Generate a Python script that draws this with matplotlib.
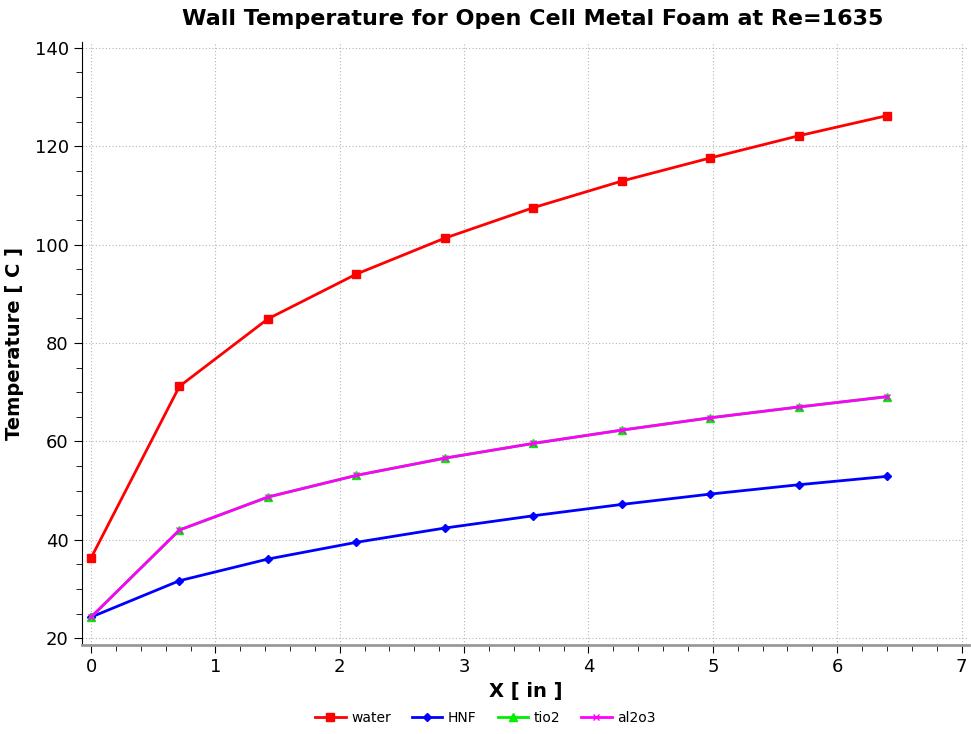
import matplotlib
matplotlib.use("Agg")
import matplotlib.pyplot as plt
from matplotlib.ticker import MultipleLocator

x = [0, 0.711, 1.422, 2.133, 2.844, 3.556, 4.267, 4.978, 5.689, 6.4]
water = [36.3, 71.2, 84.9, 94.0, 101.3, 107.5, 112.9, 117.6, 122.1, 126.2]
hnf = [24.3, 31.7, 36.1, 39.5, 42.4, 44.9, 47.2, 49.3, 51.2, 52.9]
tio2 = [24.3, 42.0, 48.7, 53.1, 56.6, 59.6, 62.3, 64.8, 67.0, 69.1]
al2o3 = [24.3, 42.0, 48.7, 53.1, 56.6, 59.6, 62.3, 64.8, 67.0, 69.1]

fig = plt.figure(figsize=(9.71, 7.34), dpi=100)
ax = fig.add_axes([0.0845, 0.121, 0.9135, 0.822])

ax.plot(x, water, color='#ff0000', marker='s', ms=6, lw=2, label='water')
ax.plot(x, hnf, color='#0000ff', marker='D', ms=4.5, lw=2, label='HNF')
ax.plot(x, tio2, color='#00ee00', marker='^', ms=6, lw=2, label='tio2')
ax.plot(x, al2o3, color='#ff00ff', marker='x', ms=4, lw=2, label='al2o3')

ax.set_xlim(-0.072, 7.06)
ax.set_ylim(18.6, 141.2)
ax.xaxis.set_major_locator(MultipleLocator(1))
ax.xaxis.set_minor_locator(MultipleLocator(0.2))
ax.yaxis.set_major_locator(MultipleLocator(20))
ax.yaxis.set_minor_locator(MultipleLocator(5))
ax.grid(True, which='major', color='#b4b4b4', linestyle=(0, (1, 2)), linewidth=0.8)
for s in ['top', 'right']:
    ax.spines[s].set_visible(False)
ax.spines['bottom'].set_color('#999999')
ax.spines['bottom'].set_linewidth(2)
ax.spines['left'].set_color('black')
ax.tick_params(axis='both', which='major', labelsize=13, length=6, direction='out')
ax.tick_params(axis='both', which='minor', length=4)

ax.set_xlabel('X [ in ]', fontsize=14, fontweight='bold', labelpad=4)
ax.set_ylabel('Temperature [ C ]', fontsize=14, fontweight='bold', labelpad=8)
fig.suptitle('Wall Temperature for Open Cell Metal Foam at Re=1635', fontsize=16,
             fontweight='bold', x=0.549, y=0.988)

fig.legend(loc='lower center', ncol=4, frameon=False, fontsize=10,
           bbox_to_anchor=(0.5, -0.005), handlelength=2.2, columnspacing=1.5,
           handletextpad=0.4)

fig.savefig('out.png', dpi=100)
